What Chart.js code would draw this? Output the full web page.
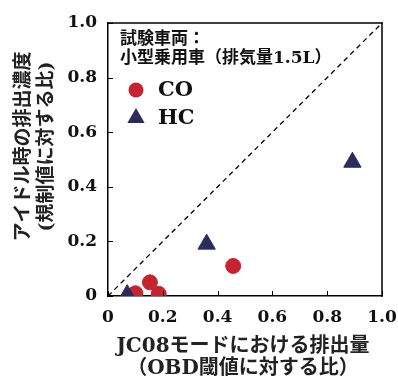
<!DOCTYPE html>
<html>
<head>
<meta charset="utf-8">
<script src="https://cdn.jsdelivr.net/npm/chart.js@4"></script>
<style>
  html, body { margin: 0; padding: 0; background: #fff; }
  #wrap { width: 398px; height: 380px; }
</style>
</head>
<body>
<div id="wrap"><canvas id="myChart"></canvas></div>
<script>
// data
const coX = [0.10, 0.153, 0.185, 0.457];
const coY = [0.01, 0.05, 0.008, 0.11];
const hcX = [0.07, 0.36, 0.892];
const hcY = [0.005, 0.19, 0.49];
const tickVals = [0, 0.2, 0.4, 0.6, 0.8, 1.0];
const xTitle = ['JC08モードにおける排出量', '（OBD閾値に対する比）'];
const yTitle = ['アイドル時の排出濃度', '(規制値に対する比)'];
const noteLines = ['試験車両：', '小型乗用車（排気量1.5L）'];
const seriesNames = ['CO', 'HC'];

const red = '#c4242f';
const navy = '#2b2c5c';
const numFont = "'DejaVu Serif', serif";
const jpFont = "'DejaVu Serif', 'Noto Sans CJK JP', sans-serif";

const ctx = document.getElementById('myChart');

function toPts(xs, ys) {
  return xs.map((x, i) => ({ x: x, y: ys[i] }));
}

function fmt(v) {
  return v === 0 ? '0' : v.toFixed(1);
}

// axis titles, box frame, inside ticks, note + legend
const extras = {
  id: 'extras',
  afterDraw(chart) {
    const c = chart.ctx;
    const a = chart.chartArea;
    const sx = chart.scales.x, sy = chart.scales.y;
    const w = a.right - a.left, h = a.bottom - a.top, t = 1.5;
    c.save();

    // titles
    c.fillStyle = '#222';
    c.textAlign = 'center';
    c.textBaseline = 'middle';
    c.font = "bold 20px " + jpFont;
    const cx = (a.left + a.right) / 2 - 2;
    c.fillText(xTitle[0], cx, a.bottom + 51);
    c.fillText(xTitle[1], cx, a.bottom + 73);
    c.save();
    c.translate(a.left - 84, (a.top + a.bottom) / 2 - 13);
    c.rotate(-Math.PI / 2);
    c.font = "bold 19px " + jpFont;
    c.fillText(yTitle[0], 0, 0);
    c.fillText(yTitle[1], 0, 23);
    c.restore();

    // frame and ticks
    c.fillStyle = 'rgb(0,0,0)';
    c.fillRect(a.left - t / 2, a.top - t / 2, w + t, t);
    c.fillRect(a.right - t / 2, a.top - t / 2, t, h + t);
    tickVals.forEach(v => {
      const px = Math.round(sx.getPixelForValue(v));
      c.fillRect(px, a.bottom - 5, 1, 5);
      const py = Math.round(sy.getPixelForValue(v));
      c.fillRect(a.left, py, 5, 1);
    });

    // note and legend
    c.fillStyle = '#111';
    c.textAlign = 'left';
    c.font = "bold 17px " + jpFont;
    c.fillText(noteLines[0], a.left + 12, a.top + 17);
    c.fillText(noteLines[1], a.left + 12, a.top + 36);

    const lx = a.left + 28;
    c.font = "bold 21px " + numFont;
    c.fillStyle = red;
    c.beginPath();
    c.arc(lx, a.top + 67, 7.5, 0, Math.PI * 2);
    c.fill();
    c.fillStyle = '#111';
    c.fillText(seriesNames[0], a.left + 50, a.top + 68);
    const ty = a.top + 95, r = 10;
    c.fillStyle = navy;
    c.beginPath();
    c.moveTo(lx, ty - r);
    c.lineTo(lx + r * Math.sin(2 * Math.PI / 3), ty - r * Math.cos(2 * Math.PI / 3));
    c.lineTo(lx + r * Math.sin(4 * Math.PI / 3), ty - r * Math.cos(4 * Math.PI / 3));
    c.closePath();
    c.fill();
    c.fillStyle = '#111';
    c.fillText(seriesNames[1], a.left + 50, a.top + 96);
    c.restore();
  }
};

const graph = new Chart(ctx, {
  type: 'scatter',
  data: {
    datasets: [
      {
        type: 'line',
        label: 'y=x',
        data: [{ x: 0, y: 0 }, { x: 1, y: 1 }],
        borderColor: '#000',
        borderWidth: 1.3,
        borderDash: [5, 4],
        pointRadius: 0,
        fill: false,
        order: 3
      },
      {
        label: seriesNames[0],
        data: toPts(coX, coY),
        backgroundColor: red,
        borderColor: red,
        pointStyle: 'circle',
        pointRadius: 7.5,
        order: 2
      },
      {
        label: seriesNames[1],
        data: toPts(hcX, hcY),
        backgroundColor: navy,
        borderColor: navy,
        pointStyle: 'triangle',
        pointRadius: 10,
        order: 1
      }
    ]
  },
  options: {
    responsive: true,
    maintainAspectRatio: false,
    animation: false,
    layout: { padding: { top: 23, right: 0, left: 0, bottom: 0 } },
    plugins: {
      legend: { display: false },
      tooltip: { enabled: false }
    },
    scales: {
      x: {
        type: 'linear',
        min: 0,
        max: 1,
        afterBuildTicks: s => { s.ticks = tickVals.map(v => ({ value: v })); },
        afterFit: s => { s.height = 84; s.paddingRight = 16; },
        grid: { display: false, drawTicks: false },
        border: { display: true, color: '#000', width: 1.5 },
        ticks: {
          callback: v => fmt(v),
          color: '#111',
          padding: 11,
          maxRotation: 0,
          font: { family: numFont, size: 17, weight: 'bold' }
        }
      },
      y: {
        type: 'linear',
        min: 0,
        max: 1,
        afterBuildTicks: s => { s.ticks = tickVals.map(v => ({ value: v })); },
        afterFit: s => { s.width = 108; },
        grid: { display: false, drawTicks: false },
        border: { display: true, color: '#000', width: 1.5 },
        ticks: {
          callback: v => fmt(v),
          color: '#111',
          padding: 11,
          font: { family: numFont, size: 17, weight: 'bold' }
        }
      }
    }
  },
  plugins: [extras]
});
</script>
</body>
</html>
